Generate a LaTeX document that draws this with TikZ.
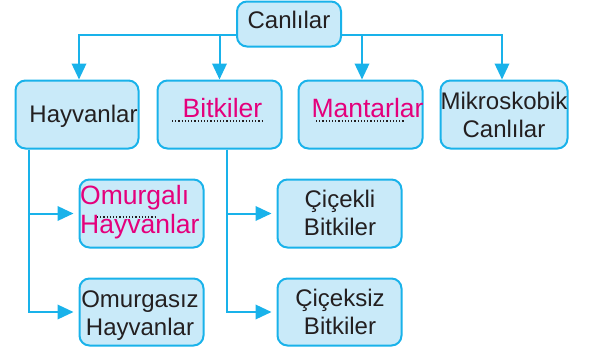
\documentclass[tikz,border=0pt]{standalone}
\usepackage{fontspec}
\setmainfont{Liberation Sans}
\usetikzlibrary{arrows.meta}
\definecolor{cyanline}{HTML}{19B2EA}
\definecolor{boxfill}{HTML}{C9EAF9}
\definecolor{pinktext}{HTML}{E4007C}
\definecolor{darktext}{HTML}{231F20}
\begin{document}
\begin{tikzpicture}[x=1pt,y=-1pt,
  box/.style={draw=cyanline, fill=boxfill, line width=2pt, rounded corners=10pt, inner sep=0pt},
  txt/.style={font=\fontsize{24}{28}\selectfont, text=darktext, inner sep=0pt, align=center},
  pinkt/.style={font=\fontsize{26.5}{29}\selectfont, text=pinktext},
  arr/.style={draw=cyanline, line width=2pt, -{Triangle[length=16pt,width=14.5pt]}},
  dots/.style={draw=darktext, line width=1.2pt, dash pattern=on 1.2pt off 2pt}
]
\useasboundingbox (0,0) rectangle (590,351);

% boxes
\node[box, minimum width=104pt, minimum height=45pt] (can) at (289,24) {};
\node[box, minimum width=123pt, minimum height=68pt] (hay) at (77,114.5) {};
\node[box, minimum width=124pt, minimum height=68pt] (bit) at (219.5,114.5) {};
\node[box, minimum width=124pt, minimum height=68pt] (man) at (360.5,114.5) {};
\node[box, minimum width=127pt, minimum height=68pt] (mik) at (504,114.5) {};
\node[box, minimum width=124pt, minimum height=68pt] (omv) at (141.5,213.5) {};
\node[box, minimum width=124pt, minimum height=67pt] (omi) at (141.5,312) {};
\node[box, minimum width=124pt, minimum height=68pt] (cic) at (339.5,213.5) {};
\node[box, minimum width=124pt, minimum height=67pt] (cis) at (339.5,312) {};

% connectors
\draw[arr] ([yshift=-11pt]can.west) -| ([xshift=2pt]hay.north);
\draw[arr] ([yshift=-11pt]can.west) -| (bit.north);
\draw[arr] ([yshift=-11pt]can.east) -| ([xshift=1.5pt]man.north);
\draw[arr] ([yshift=-11pt]can.east) -| ([xshift=-2pt]mik.north);
\draw[arr, shorten >=5pt] ([xshift=14pt]hay.south west) |- (omv.west);
\draw[arr, shorten >=5pt] ([xshift=14pt]hay.south west) |- (omi.west);
\draw[arr, shorten >=5pt] ([xshift=7.5pt]bit.south) |- (cic.west);
\draw[arr, shorten >=5pt] ([xshift=7.5pt]bit.south) |- (cis.west);

% dotted underlines
\draw[dots] (172,121) -- (262,121);
\draw[dots] (316,121) -- (405,121);
\draw[dots] (97,217) -- (155,217);

% texts
\node[txt] (cant) at (289,22.4) {\strut Canlılar};
\node[txt] (hayt) at (83.5,116.4) {\strut Hayvanlar};
\node[txt, pinkt] (bitt) at (222.5,111.2) {\strut Bitkiler};
\node[txt, pinkt] (mant) at (367.5,111.2) {\strut Mantarlar};
\node[txt] (mikt) at (504,117.4) {\strut Mikroskobik\\\strut Canlılar};
\node[txt, pinkt, align=left, anchor=west] (omvt) at (80,212.7) {\strut Omurgalı\\\strut Hayvanlar};
\node[txt] (omit) at (140,315.4) {\strut Omurgasız\\\strut Hayvanlar};
\node[txt] (cict) at (340,215.4) {\strut Çiçekli\\\strut Bitkiler};
\node[txt] (cist) at (340,315) {\strut Çiçeksiz\\\strut Bitkiler};
\end{tikzpicture}
\end{document}
